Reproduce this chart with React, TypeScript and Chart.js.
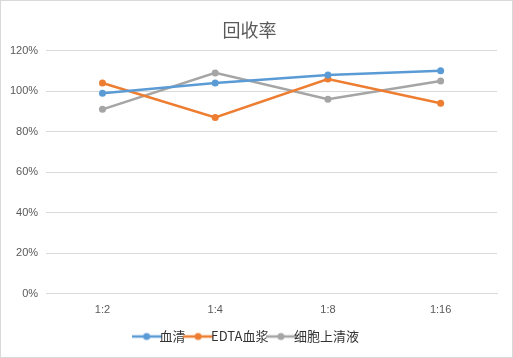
import React, { useEffect, useRef } from "react";
import { Chart, registerables } from "chart.js";

Chart.register(...registerables);

const categories = ["1:2", "1:4", "1:8", "1:16"];
const serum = [0.99, 1.04, 1.08, 1.1];
const edtaPlasma = [1.04, 0.87, 1.06, 0.94];
const cellSupernatant = [0.91, 1.09, 0.96, 1.05];
const seriesNames = ["血清", "EDTA血浆", "细胞上清液"];
const seriesColors = ["#5B9BD5", "#ED7D31", "#A5A5A5"];

function makeMarker(color: string): HTMLCanvasElement {
  const c = document.createElement("canvas");
  c.width = 30;
  c.height = 10;
  const ctx = c.getContext("2d")!;
  ctx.strokeStyle = color;
  ctx.lineWidth = 2.5;
  ctx.beginPath();
  ctx.moveTo(0, 5);
  ctx.lineTo(30, 5);
  ctx.stroke();
  ctx.fillStyle = color;
  ctx.beginPath();
  ctx.arc(15, 5, 3.5, 0, Math.PI * 2);
  ctx.fill();
  return c;
}

export default function App() {
  const ref = useRef<HTMLCanvasElement>(null);
  useEffect(() => {
    document.body.style.margin = "0";
    const markers = seriesColors.map(makeMarker);
    const data = [serum, edtaPlasma, cellSupernatant];
    const chart = new Chart(ref.current!, {
      type: "line",
      data: {
        labels: categories,
        datasets: data.map((d, i) => ({
          label: seriesNames[i],
          data: d,
          borderColor: seriesColors[i],
          backgroundColor: seriesColors[i],
          borderWidth: 2.5,
          pointRadius: 3.5,
          pointHoverRadius: 3.5,
          pointBorderWidth: 0,
          pointStyle: "circle",
          tension: 0,
        })),
      },
      options: {
        responsive: false,
        animation: false,
        layout: { padding: { left: 1, right: 15, top: 18, bottom: 4 } },
        plugins: {
          title: {
            display: true,
            text: "回收率",
            color: "#595959",
            font: { family: "'Noto Sans CJK SC'", size: 18, weight: "normal" },
            padding: { top: 0, bottom: 10 },
          },
          legend: {
            position: "bottom",
            labels: {
              usePointStyle: true,
              color: "#333333",
              font: { family: "'Noto Sans CJK SC'", size: 13 },
              padding: 6,
              boxHeight: 10,
              generateLabels: (ch: any) =>
                ch.data.datasets.map((ds: any, i: number) => ({
                  text: ds.label,
                  fillStyle: ds.borderColor,
                  strokeStyle: ds.borderColor,
                  pointStyle: markers[i],
                  datasetIndex: i,
                  fontColor: "#333333",
                  lineWidth: 0,
                  hidden: false,
                })),
            },
          },
          tooltip: { enabled: false },
        },
        scales: {
          x: {
            offset: true,
            grid: { display: false },
            border: { display: true, color: "#d9d9d9" },
            ticks: { color: "#595959", font: { family: "'Liberation Sans'", size: 11 }, padding: 2 },
            afterFit: (scale: any) => {
              scale.height += 5;
            },
          },
          y: {
            min: 0,
            max: 1.2,
            ticks: {
              stepSize: 0.2,
              color: "#595959",
              font: { family: "'Liberation Sans'", size: 11 },
              padding: 8,
              callback: (v: any) => Math.round(Number(v) * 100) + "%",
            },
            grid: { color: "#d9d9d9", drawTicks: false },
            border: { display: false },
          },
        },
      },
    });
    return () => chart.destroy();
  }, []);
  return (
    <div style={{ position: "fixed", left: 0, top: 0, width: 513, height: 358, boxSizing: "border-box", border: "1px solid #d9d9d9", background: "#fff" }}>
      <canvas ref={ref} width={511} height={356} style={{ display: "block" }} />
    </div>
  );
}
